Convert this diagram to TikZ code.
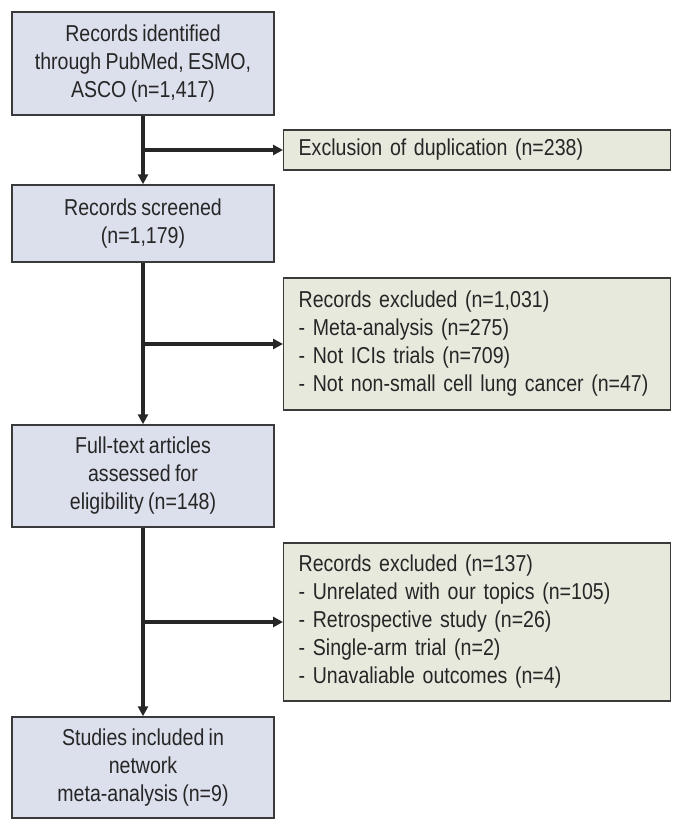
\documentclass[tikz,border=0pt]{standalone}
\usepackage{fontspec}
\setmainfont{Liberation Sans}[FakeStretch=0.85,WordSpace=0.8]
\usepackage{tikz}
\usetikzlibrary{arrows.meta}
\definecolor{leftfill}{HTML}{DCDFEC}
\definecolor{rightfill}{HTML}{E7E9DD}
\definecolor{boxline}{HTML}{3A3A3A}
\definecolor{txt}{HTML}{262626}

\begin{document}
\begin{tikzpicture}[x=1pt,y=-1pt,
    font=\fontsize{23}{28}\selectfont,
    mainbox/.style={draw=boxline,line width=1.4pt,fill=leftfill,text=txt,align=center,minimum width=262pt,inner sep=0pt},
    sidebox/.style={draw=boxline,line width=1.4pt,fill=rightfill,text=txt,align=left,text width=357pt,inner xsep=15pt,inner ysep=0pt,anchor=west},
    flow/.style={line width=3.2pt,draw=txt,-{Triangle[length=10pt,width=10pt]}}]
             \useasboundingbox (0,0) rectangle (683,832);
             \node[mainbox,minimum height=103pt] (ident) at (143,63.5) {Records identified\\through PubMed, ESMO,\\ASCO (n=1,417)};
             \node[sidebox,minimum height=40pt] (dup) at (283,150) {Exclusion of duplication (n=238)};
             \node[mainbox,minimum height=77pt] (screen) at (143,223.5) {Records screened\\(n=1,179)};
             \node[sidebox,minimum height=132pt] (excl1) at (283,344) {Records excluded (n=1,031)\\- Meta-analysis (n=275)\\- Not ICIs trials (n=709)\\- Not non-small cell lung cancer (n=47)};
             \node[mainbox,minimum height=102pt] (full) at (143,476) {Full-text articles\\assessed for\\eligibility (n=148)};
             \node[sidebox,minimum height=158pt] (excl2) at (283,622) {Records excluded (n=137)\\- Unrelated with our topics (n=105)\\- Retrospective study (n=26)\\- Single-arm trial (n=2)\\- Unavaliable outcomes (n=4)};
             \node[mainbox,minimum height=101pt] (incl) at (143,767.5) {Studies included in\\network\\meta-analysis (n=9)};
             \draw[flow] (ident) -- (screen);
             \draw[flow] (screen) -- (full);
             \draw[flow] (full) -- (incl);
             \draw[flow] (ident.south |- dup.west) -- (dup);
             \draw[flow] (screen.south |- excl1.west) -- (excl1);
             \draw[flow] (full.south |- excl2.west) -- (excl2);
            \end{tikzpicture}
\end{document}
